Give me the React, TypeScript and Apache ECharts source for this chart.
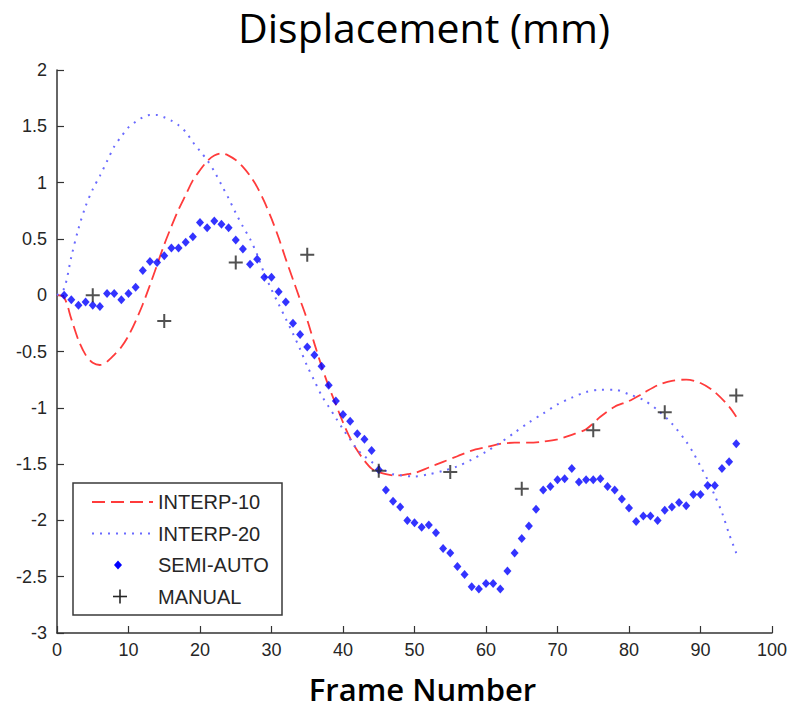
import React, { useEffect, useRef } from "react";
import * as echarts from "echarts";

// ---------- data ----------
const xTicks = [0, 10, 20, 30, 40, 50, 60, 70, 80, 90, 100];

const interp10X = [0, 1, 2, 3, 4, 5, 6, 7, 8, 9, 10, 11, 12, 13, 14, 15, 16, 17, 18, 19, 20, 21, 22, 23, 24, 25, 26, 27, 28, 29, 30, 31, 32, 33, 34, 35, 36, 37, 38, 39, 40, 41, 42, 43, 44, 45, 46, 47, 48, 49, 50, 52, 54, 56, 58, 60, 62, 64, 66, 68, 70, 72, 74, 76, 78, 80, 82, 84, 86, 88, 90, 92, 94, 95];
const interp10Y = [0, -0.02, -0.21, -0.4, -0.53, -0.6, -0.62, -0.59, -0.53, -0.46, -0.36, -0.23, -0.08, 0.09, 0.27, 0.45, 0.61, 0.76, 0.89, 1.02, 1.11, 1.19, 1.24, 1.26, 1.24, 1.2, 1.14, 1.06, 0.96, 0.83, 0.68, 0.51, 0.32, 0.14, -0.04, -0.22, -0.43, -0.63, -0.81, -0.97, -1.13, -1.27, -1.38, -1.47, -1.54, -1.57, -1.59, -1.6, -1.6, -1.59, -1.58, -1.53, -1.48, -1.43, -1.38, -1.35, -1.32, -1.31, -1.31, -1.3, -1.28, -1.24, -1.19, -1.08, -0.99, -0.94, -0.87, -0.8, -0.76, -0.75, -0.78, -0.86, -0.99, -1.08];

const interp20X = [0, 1, 2, 3, 4, 5, 6, 7, 8, 9, 10, 11, 12, 13, 14, 15, 16, 17, 18, 19, 20, 21, 22, 23, 24, 25, 26, 27, 28, 29, 30, 31, 32, 33, 34, 35, 36, 37, 38, 39, 40, 41, 42, 43, 44, 45, 46, 47, 48, 50, 52, 54, 56, 58, 60, 62, 64, 66, 68, 70, 72, 74, 76, 78, 80, 82, 84, 86, 88, 89, 90, 91, 92, 93, 94, 95];
const interp20Y = [0, 0.06, 0.34, 0.59, 0.79, 0.94, 1.06, 1.19, 1.32, 1.41, 1.49, 1.54, 1.58, 1.6, 1.6, 1.58, 1.55, 1.51, 1.45, 1.36, 1.28, 1.2, 1.1, 0.98, 0.86, 0.73, 0.61, 0.5, 0.36, 0.19, 0.05, -0.08, -0.21, -0.34, -0.48, -0.63, -0.76, -0.89, -0.99, -1.09, -1.19, -1.28, -1.37, -1.43, -1.48, -1.52, -1.56, -1.59, -1.6, -1.61, -1.59, -1.56, -1.52, -1.46, -1.39, -1.31, -1.22, -1.13, -1.05, -0.97, -0.91, -0.86, -0.84, -0.84, -0.88, -0.93, -1.02, -1.14, -1.3, -1.4, -1.52, -1.64, -1.78, -1.93, -2.12, -2.29];

const semiAutoX = Array.from({ length: 95 }, (_, i) => i + 1);
const semiAutoY = [0.0, -0.04, -0.09, -0.06, -0.09, -0.1, 0.015, 0.015, -0.04, 0.015, 0.07, 0.22, 0.3, 0.29, 0.35, 0.42, 0.42, 0.47, 0.52, 0.645, 0.6, 0.66, 0.63, 0.6, 0.49, 0.41, 0.275, 0.32, 0.16, 0.16, 0.03, -0.06, -0.25, -0.35, -0.46, -0.53, -0.63, -0.8, -0.94, -1.06, -1.12, -1.23, -1.28, -1.38, -1.55, -1.73, -1.83, -1.88, -2.0, -2.02, -2.06, -2.04, -2.11, -2.25, -2.29, -2.41, -2.48, -2.59, -2.61, -2.56, -2.56, -2.61, -2.45, -2.29, -2.16, -2.05, -1.9, -1.73, -1.7, -1.64, -1.63, -1.54, -1.66, -1.64, -1.64, -1.63, -1.7, -1.73, -1.81, -1.89, -2.01, -1.96, -1.96, -2.0, -1.91, -1.88, -1.84, -1.87, -1.77, -1.77, -1.69, -1.69, -1.54, -1.48, -1.32];

const manualX = [5, 15, 25, 35, 45, 55, 65, 75, 85, 95];
const manualY = [0.0, -0.23, 0.29, 0.36, -1.56, -1.57, -1.72, -1.2, -1.04, -0.89];

const seriesNames = ["INTERP-10", "INTERP-20", "SEMI-AUTO", "MANUAL"];

// ---------- styles ----------
const RED = "#ff3b3b";
const LBLUE = "#6a6aff";
const BLUE = "#0000ff";
const DARK = "#262626";
const PLUS = "path://M6,0 H8 V6 H14 V8 H8 V14 H6 V8 H0 V6 H6 Z";
const tickFont = "'Liberation Sans', Arial, sans-serif";
const titleFont = "'Open Sans', 'Noto Sans', sans-serif";

const zip = (xs: number[], ys: number[]) => xs.map((x, i) => [x, ys[i]]);

export default function App() {
  const ref = useRef<HTMLDivElement>(null);
  useEffect(() => {
    if (!ref.current) return;
    const chart = echarts.init(ref.current, undefined, { renderer: "svg" });

    const legX = 73, legY = 483, rowH = 31.5;
    const legendGraphics: any[] = [
      {
        type: "rect",
        shape: { x: legX, y: legY, width: 209, height: 132 },
        style: { fill: "#fff", stroke: "#3a3a3a", lineWidth: 1.5 },
        z: 100,
      },
      {
        type: "line",
        shape: { x1: 92, y1: legY + 19, x2: 153, y2: legY + 19 },
        style: { stroke: RED, lineWidth: 1.8, lineDash: [13, 6] },
        z: 101,
      },
      {
        type: "line",
        shape: { x1: 92, y1: legY + 19 + rowH, x2: 153, y2: legY + 19 + rowH },
        style: { stroke: LBLUE, lineWidth: 2, lineDash: [2, 6] },
        z: 101,
      },
      {
        type: "polygon",
        shape: {
          points: [
            [118, legY + 19 + 2 * rowH - 4.5],
            [122, legY + 19 + 2 * rowH],
            [118, legY + 19 + 2 * rowH + 4.5],
            [114, legY + 19 + 2 * rowH],
          ],
        },
        style: { fill: BLUE },
        z: 101,
      },
      {
        type: "line",
        shape: { x1: 113, y1: legY + 19 + 3 * rowH, x2: 127, y2: legY + 19 + 3 * rowH },
        style: { stroke: DARK, lineWidth: 1.6 },
        z: 101,
      },
      {
        type: "line",
        shape: { x1: 120, y1: legY + 12 + 3 * rowH, x2: 120, y2: legY + 26 + 3 * rowH },
        style: { stroke: DARK, lineWidth: 1.6 },
        z: 101,
      },
    ];
    seriesNames.forEach((n, i) => {
      legendGraphics.push({
        type: "text",
        x: 158,
        y: legY + 19 + i * rowH,
        style: {
          text: n,
          fill: DARK,
          font: `20px ${tickFont}`,
          verticalAlign: "middle",
          align: "left",
        },
        z: 101,
      });
    });

    chart.setOption({
      animation: false,
      backgroundColor: "#ffffff",
      title: {
        text: "Displacement (mm)",
        left: 419,
        textAlign: "center",
        top: 1,
        textStyle: {
          fontFamily: titleFont,
          fontSize: 41,
          fontWeight: "normal",
          color: "#000",
        },
      },
      grid: {
        left: 57,
        right: 24,
        top: 70,
        bottom: 77,
        containLabel: false,
        outerBoundsMode: "none",
      },
      xAxis: {
        type: "value",
        min: xTicks[0],
        max: xTicks[xTicks.length - 1],
        interval: 10,
        name: "Frame Number",
        nameLocation: "middle",
        nameGap: 40,
        nameTextStyle: {
          fontFamily: titleFont,
          fontSize: 31,
          fontWeight: 600,
          color: "#000",
          padding: [0, 0, 0, 16],
        },
        axisLine: { show: true, onZero: false, lineStyle: { color: "#333", width: 1.5 } },
        axisTick: { show: true, inside: true, length: 7, lineStyle: { color: "#333", width: 1.2 } },
        axisLabel: { color: DARK, fontSize: 18, fontFamily: tickFont, margin: 8 },
        splitLine: { show: false },
      },
      yAxis: {
        type: "value",
        min: -3,
        max: 2,
        interval: 0.5,
        axisLine: { show: true, onZero: false, lineStyle: { color: "#333", width: 1.5 } },
        axisTick: { show: true, inside: true, length: 7, lineStyle: { color: "#333", width: 1.2 } },
        axisLabel: { color: DARK, fontSize: 18, fontFamily: tickFont, margin: 10 },
        splitLine: { show: false },
      },
      series: [
        {
          name: seriesNames[0],
          type: "line",
          data: zip(interp10X, interp10Y),
          smooth: 0.3,
          symbol: "none",
          lineStyle: { color: RED, width: 1.8, type: [13, 6] },
          z: 2,
        },
        {
          name: seriesNames[1],
          type: "line",
          data: zip(interp20X, interp20Y),
          smooth: 0.3,
          symbol: "none",
          lineStyle: { color: LBLUE, width: 2, type: [2, 6] },
          z: 2,
        },
        {
          name: seriesNames[2],
          type: "scatter",
          data: zip(semiAutoX, semiAutoY),
          symbol: "diamond",
          symbolSize: [8, 9],
          itemStyle: { color: BLUE },
          z: 3,
        },
        {
          name: seriesNames[3],
          type: "scatter",
          data: zip(manualX, manualY),
          symbol: PLUS,
          symbolSize: 14,
          itemStyle: { color: DARK },
          z: 4,
        },
      ],
      graphic: legendGraphics,
    });
    return () => chart.dispose();
  }, []);

  return (
    <div
      ref={ref}
      style={{ position: "fixed", left: 0, top: 0, width: 796, height: 710 }}
    />
  );
}
